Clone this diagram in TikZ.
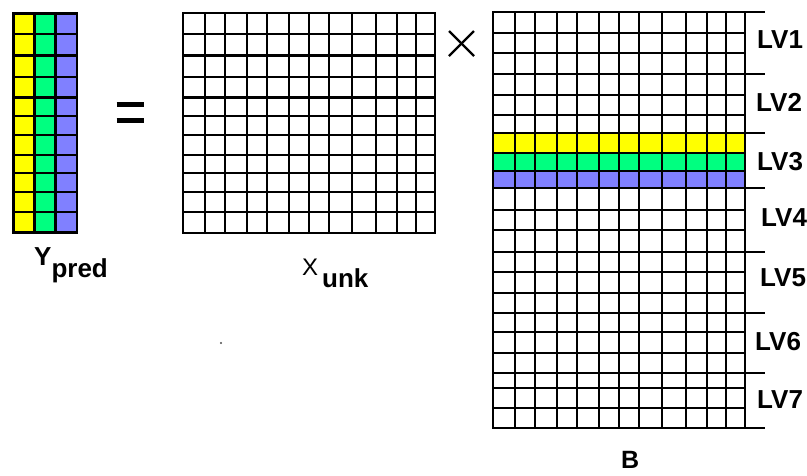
\documentclass[tikz,border=0pt]{standalone}
\usepackage{fontspec}
\setmainfont{Liberation Sans}
\definecolor{cyel}{HTML}{FFFF00}
\definecolor{cgrn}{HTML}{00FF80}
\definecolor{cblu}{HTML}{8080FF}
\begin{document}
\begin{tikzpicture}[x=1pt,y=-1pt,
  gridline/.style={line width=2.1pt,line cap=rect,black},
  sepline/.style={line width=1.9pt,black},
  lvlabel/.style={anchor=west,inner sep=0pt,font=\fontsize{26}{26}\selectfont\bfseries},
  mathsign/.style={line width=4.2pt},
  timessign/.style={line width=2.3pt}]
\useasboundingbox (0,0) rectangle (807,475);
% ---------- Y_pred ----------
\fill[cyel] (13.5,13.5) rectangle (34.5,232.5);
\fill[cgrn] (34.5,13.5) rectangle (55.5,232.5);
\fill[cblu] (55.5,13.5) rectangle (77,232.5);
\foreach \x in {13.5,34.5,55.5,77}
  \draw[gridline] (\x,13.5) -- (\x,232.5);
\foreach \y in {13.5,34,55.5,77,97.5,116,135,155,173,192,212,232.5}
  \draw[gridline] (13.5,\y) -- (77,\y);
\node[anchor=base west,inner sep=0pt,font=\fontsize{26}{26}\selectfont\bfseries] (ypred) at (34,265.5) {Y\raisebox{-11.5pt}{pred}};
% ---------- equals ----------
\draw[mathsign] (116.7,104.5) -- (144,104.5);
\draw[mathsign] (116.7,120.5) -- (144,120.5);
% ---------- X_unk ----------
\foreach \x in {183.3,204.7,225.3,246.7,267.3,288.7,308.7,329.3,351.7,375.7,396.7,416,435}
  \draw[gridline] (\x,13.3) -- (\x,232.7);
\foreach \y in {13.3,34,55.5,77,97.5,116,135,155,173,192,212,232.7}
  \draw[gridline] (183.3,\y) -- (435,\y);
\node[anchor=base west,inner sep=0pt,font=\fontsize{24}{24}\selectfont] (xunk) at (302,275.5) {X};
\node[anchor=base west,inner sep=0pt,font=\fontsize{26}{26}\selectfont\bfseries] (xunksub) at (322,287) {unk};
% ---------- times ----------
\draw[timessign] (449,31) -- (474,56);
\draw[timessign] (449,56) -- (474,31);
% ---------- B ----------
\fill[cyel] (493.3,133.3) rectangle (745,153.3);
\fill[cgrn] (493.3,153.3) rectangle (745,170.7);
\fill[cblu] (493.3,170.7) rectangle (745,188.3);
\foreach \x in {493.3,514.7,535.3,556.7,577.3,598.7,618.7,639.3,661.7,685.7,706.7,726,745}
  \draw[gridline] (\x,11.7) -- (\x,428.3);
\foreach \y in {11.7,33.3,53.3,74,95,115,133.3,153.3,170.7,188.3,210,230,251.7,271.7,293.3,313.3,331.7,353.3,372.7,388.3,408.3,428.3}
  \draw[gridline] (493.3,\y) -- (745,\y);
\foreach \y in {11.7,74,133.3,188.3,251.7,313.3,372.7,428.3}
  \draw[sepline] (745,\y) -- (765,\y);
\node[lvlabel] (lv1) at (757,40) {LV1};
\node[lvlabel] (lv2) at (756,102) {LV2};
\node[lvlabel] (lv3) at (757,162) {LV3};
\node[lvlabel] (lv4) at (761,218) {LV4};
\node[lvlabel] (lv5) at (760,278) {LV5};
\node[lvlabel] (lv6) at (755,342) {LV6};
\node[lvlabel] (lv7) at (757,400) {LV7};
\node[anchor=base west,inner sep=0pt,font=\fontsize{25}{25}\selectfont\bfseries] (blab) at (621,468.5) {B};
% stray dot
\fill[black!70] (221,343) circle (1.2);
\end{tikzpicture}
\end{document}
